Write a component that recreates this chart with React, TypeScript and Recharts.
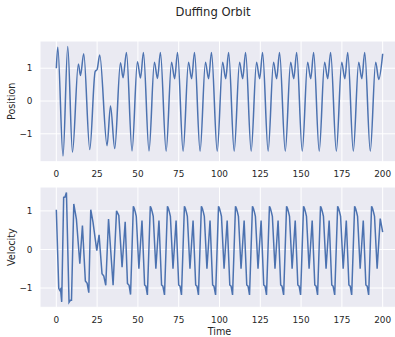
import { CartesianGrid, Line, LineChart, XAxis, YAxis } from "recharts";

const timeTicks = [0, 25, 50, 75, 100, 125, 150, 175, 200];
const valueTicks = [-1, 0, 1];

// position x(t)
const posTime = [
  0, 0.9, 4.1, 7.0, 9.9, 13.5, 14.8, 16.8, 20.5, 23.8, 25.0, 26.6, 31.1, 33.2, 35.8, 39.3, 40.9, 43.0, 46.4,
  49.7, 51.6, 53.4, 56.8, 60.1, 62.0, 63.8, 67.3, 70.6, 72.5, 74.3, 77.7,
  81.0, 82.9, 84.7, 88.1, 91.4, 93.3, 95.1, 98.6, 101.9, 103.8, 105.6, 109.0,
  112.3, 114.2, 116.0, 119.4, 122.7, 124.6, 126.4, 129.8, 133.1, 135.0, 136.8, 140.3,
  143.6, 145.5, 147.3, 150.7, 154.0, 155.9, 157.7, 161.1, 164.4, 166.3, 168.1, 171.6,
  174.9, 176.8, 178.6, 182.0, 185.3, 187.2, 189.0, 192.4, 195.7, 197.6, 200,
];
const posValue = [
  1.0, 1.64, -1.68, 1.66, -1.56, 1.13, 0.78, 1.44, -1.48, 0.9, 0.96, 1.4, -1.36, -0.15, -1.45, 1.17, 0.71, 1.48, -1.52,
  1.2, 0.7, 1.48, -1.52, 1.18, 0.69, 1.48, -1.53, 1.18, 0.68, 1.48, -1.53,
  1.18, 0.68, 1.48, -1.53, 1.18, 0.68, 1.48, -1.53, 1.18, 0.68, 1.48, -1.53,
  1.18, 0.68, 1.48, -1.53, 1.18, 0.68, 1.48, -1.53, 1.18, 0.68, 1.48, -1.53,
  1.18, 0.68, 1.48, -1.53, 1.18, 0.68, 1.48, -1.53, 1.18, 0.68, 1.48, -1.53,
  1.18, 0.68, 1.48, -1.53, 1.18, 0.68, 1.48, -1.53, 1.18, 0.66, 1.44,
];

// velocity v(t)
const velTime = [
  0, 1.5, 2.1, 2.6, 3.3, 4.5, 5.3, 6.2, 7.8, 8.6, 9.3, 10.7, 12.3, 14.4, 16.0, 17.8, 18.9, 19.9,
  21.1, 22.5, 24.8, 26.2, 28.0, 29.1, 30.3, 32.0, 34.8, 36.9, 38.3, 40.3, 42.2, 43.6, 44.6, 45.5,
  47.2, 47.8, 48.4, 49.0, 50.6, 52.5, 54.1, 54.9, 55.8,
  57.6, 58.2, 58.8, 59.4, 61.0, 62.9, 64.5, 65.3, 66.3,
  68.1, 68.7, 69.3, 69.9, 71.5, 73.4, 75.0, 75.8, 76.7,
  78.5, 79.1, 79.7, 80.3, 81.9, 83.8, 85.4, 86.2, 87.1,
  88.9, 89.5, 90.1, 90.7, 92.3, 94.2, 95.8, 96.6, 97.6,
  99.4, 100.0, 100.6, 101.2, 102.8, 104.7, 106.3, 107.1, 108.0,
  109.8, 110.4, 111.0, 111.6, 113.2, 115.1, 116.7, 117.5, 118.4,
  120.2, 120.8, 121.4, 122.0, 123.6, 125.5, 127.1, 127.9, 128.8,
  130.6, 131.2, 131.8, 132.4, 134.0, 135.9, 137.5, 138.3, 139.3,
  141.1, 141.7, 142.3, 142.9, 144.5, 146.4, 148.0, 148.8, 149.7,
  151.5, 152.1, 152.7, 153.3, 154.9, 156.8, 158.4, 159.2, 160.1,
  161.9, 162.5, 163.1, 163.7, 165.3, 167.2, 168.8, 169.6, 170.6,
  172.4, 173.0, 173.6, 174.2, 175.8, 177.7, 179.3, 180.1, 181.0,
  182.8, 183.4, 184.0, 184.6, 186.2, 188.1, 189.7, 190.5, 191.4,
  193.2, 193.8, 194.4, 195.0, 196.6, 198.5, 200,
];
const velValue = [
  1.03, -1.01, -1.06, -1.03, -1.36, 1.35, 1.36, 1.48, -1.37, -1.32, -1.32, 1.18, 0.79, -0.37, 0.62, -0.82, -0.88, -1.12,
  1.03, 0.7, -0.03, 0.38, -0.63, -0.69, -0.93, 0.79, -0.93, 1.0, 0.88, -0.46, 0.72, -0.88, -0.93, -1.17,
  1.12, 1.06, 0.97, 0.86, -0.5, 0.75, -0.92, -0.95, -1.18,
  1.12, 1.06, 0.97, 0.86, -0.5, 0.75, -0.92, -0.95, -1.18,
  1.12, 1.06, 0.97, 0.86, -0.5, 0.75, -0.92, -0.95, -1.18,
  1.12, 1.06, 0.97, 0.86, -0.5, 0.75, -0.92, -0.95, -1.18,
  1.12, 1.06, 0.97, 0.86, -0.5, 0.75, -0.92, -0.95, -1.18,
  1.12, 1.06, 0.97, 0.86, -0.5, 0.75, -0.92, -0.95, -1.18,
  1.12, 1.06, 0.97, 0.86, -0.5, 0.75, -0.92, -0.95, -1.18,
  1.12, 1.06, 0.97, 0.86, -0.5, 0.75, -0.92, -0.95, -1.18,
  1.12, 1.06, 0.97, 0.86, -0.5, 0.75, -0.92, -0.95, -1.18,
  1.12, 1.06, 0.97, 0.86, -0.5, 0.75, -0.92, -0.95, -1.18,
  1.12, 1.06, 0.97, 0.86, -0.5, 0.75, -0.92, -0.95, -1.18,
  1.12, 1.06, 0.97, 0.86, -0.5, 0.75, -0.92, -0.95, -1.18,
  1.12, 1.06, 0.97, 0.86, -0.5, 0.75, -0.92, -0.95, -1.18,
  1.12, 1.06, 0.97, 0.86, -0.5, 0.75, -0.92, -0.95, -1.18,
  1.12, 1.06, 0.97, 0.86, -0.5, 0.8, 0.45,
];

const positionData = posTime.map((t, i) => ({ t, v: posValue[i] }));
const velocityData = velTime.map((t, i) => ({ t, v: velValue[i] }));

const INK = "#262626";
const BLUE = "#4C72B0";
const PANEL = "#EAEAF2";
const FONT = "'DejaVu Sans', sans-serif";

const tickStyle = { fill: INK, fontSize: 8.9, fontFamily: FONT };
const fmt = (v: number) => String(v).replace("-", "\u2212");

function SideLabel({ viewBox, text }: any) {
  const cy = viewBox.y + viewBox.height / 2;
  return (
    <text x={12} y={cy} transform={`rotate(-90 12 ${cy})`} textAnchor="middle" dominantBaseline="central"
      fill={INK} fontSize={9.6} fontFamily={FONT}>
      {text}
    </text>
  );
}

function BottomLabel({ viewBox, text }: any) {
  return (
    <text x={viewBox.x + viewBox.width / 2} y={viewBox.y + viewBox.height - 5.3} textAnchor="middle"
      dominantBaseline="central" fill={INK} fontSize={9.6} fontFamily={FONT}>
      {text}
    </text>
  );
}

function Panel({ data, domain, height, top, xHeight, label, smooth, xLabel }: any) {
  return (
    <LineChart width={400} height={height} data={data} margin={{ top, right: 1, bottom: 0, left: 0 }}>
      <CartesianGrid fill={PANEL} stroke="#ffffff" strokeWidth={1} />
      <XAxis dataKey="t" type="number" domain={[-10, 210]} ticks={timeTicks} height={xHeight}
        tick={tickStyle} tickLine={false} axisLine={false} tickSize={0} tickMargin={9}
        label={xLabel ? <BottomLabel text={xLabel} /> : undefined} />
      <YAxis type="number" domain={domain} ticks={valueTicks} width={40} tickFormatter={fmt}
        tick={tickStyle} tickLine={false} axisLine={false} tickSize={0} tickMargin={7.5}
        label={<SideLabel text={label} />} />
      <Line dataKey="v" type={smooth ? "monotone" : "linear"} stroke={BLUE} strokeWidth={1.5}
        dot={false} isAnimationActive={false} />
    </LineChart>
  );
}

export default function App() {
  return (
    <div style={{ position: "absolute", left: 0, top: 0, width: 395, height: 337, overflow: "hidden", background: "#fff" }}>
      <div style={{ position: "absolute", left: 0, top: 5, width: 426, textAlign: "center", fontFamily: FONT, fontSize: 11.6, color: INK }}>
        Duffing Orbit
      </div>
      <div style={{ position: "absolute", left: 0, top: 0 }}>
        <Panel data={positionData} domain={[-1.85, 1.83]} height={180} top={41} xHeight={18.3} label="Position" smooth />
      </div>
      <div style={{ position: "absolute", left: 0, top: 180 }}>
        <Panel data={velocityData} domain={[-1.5, 1.62]} height={157} top={7} xHeight={29.7} label="Velocity" xLabel="Time" />
      </div>
    </div>
  );
}
